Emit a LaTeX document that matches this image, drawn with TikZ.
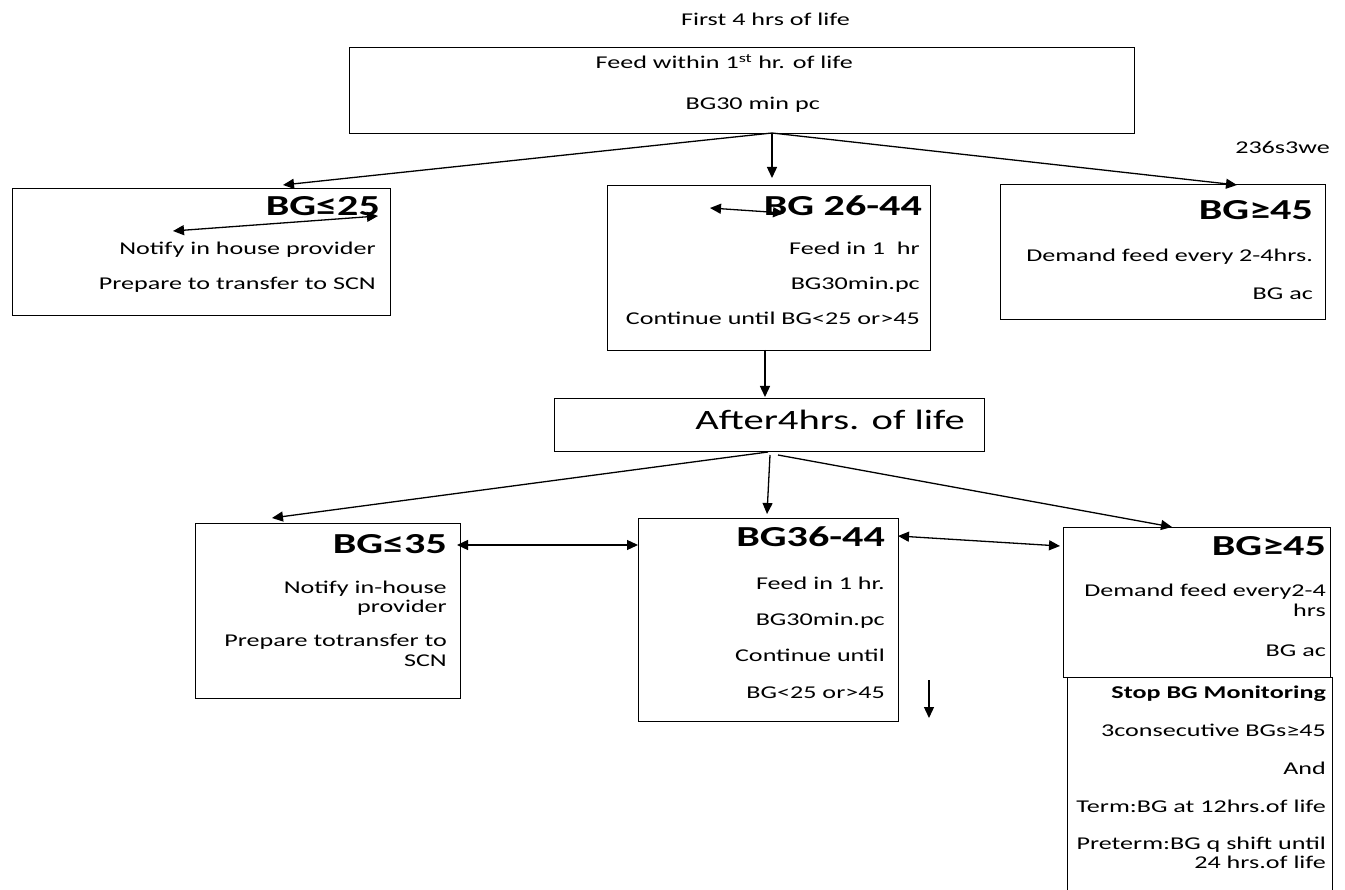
\documentclass[tikz,border=0pt]{standalone}
\usepackage{fontspec}
\setmainfont{Carlito}[FakeStretch=1.45]
\usetikzlibrary{arrows.meta}

\tikzset{
  box/.style={draw, line width=1.3pt, anchor=north west, inner sep=0pt},
  hd/.style={font=\fontsize{29}{31}\selectfont\bfseries, anchor=base east, inner sep=0pt},
  ln/.style={font=\fontsize{18}{21}\selectfont, anchor=base east, inner sep=0pt},
  arr/.style={-{Triangle[length=11pt,width=10pt]}, line width=1.3pt},
  darr/.style={{Triangle[length=11pt,width=10pt]}-{Triangle[length=11pt,width=10pt]}, line width=1.3pt}
}

\begin{document}
\begin{tikzpicture}[x=1pt, y=-1pt]
        \useasboundingbox (0,0) rectangle (1345,890);

        % boxes
        \node[box, minimum width=785pt, minimum height=86pt] (box top) at (349,47) {};
        \node[box, minimum width=378pt, minimum height=127pt] (box a) at (12,188) {};
        \node[box, minimum width=323pt, minimum height=165pt] (box b) at (607,185) {};
        \node[box, minimum width=325pt, minimum height=135pt] (box c) at (1000,184) {};
        \node[box, minimum width=430pt, minimum height=53pt] (box after) at (554,398) {};
        \node[box, minimum width=265pt, minimum height=175pt] (box d) at (195,523) {};
        \node[box, minimum width=260pt, minimum height=203pt] (box e) at (638,518) {};
        \node[box, minimum width=267pt, minimum height=150pt] (box f) at (1063,527) {};
        \node[box, minimum width=265pt, minimum height=240pt] (box g) at (1067,677) {};

        % texts
        \node[ln] (title) at (850,26) {First 4 hrs of life};
        \node[ln] (top 1) at (853,69) {Feed within 1\textsuperscript{st} hr. of life};
        \node[ln] (top 2) at (820,110) {BG30 min pc};
        \node[ln] (code) at (1330,154) {236s3we};

        \node[hd] (a 0) at (380,216) {BG≤25};
        \node[ln] (a 1) at (376,255) {Notify in house provider};
        \node[ln] (a 2) at (376,290) {Prepare to transfer to SCN};

        \node[hd] (b 0) at (922,216) {BG 26-44};
        \node[ln] (b 1) at (920,255) {Feed in 1\ \ hr};
        \node[ln] (b 2) at (920,290) {BG30min.pc};
        \node[ln] (b 3) at (920,325) {Continue until BG<25 or>45};

        \node[hd] (c 0) at (1313,220) {BG≥45};
        \node[ln] (c 1) at (1313,262) {Demand feed every 2-4hrs.};
        \node[ln] (c 2) at (1313,300) {BG ac};

        \node[ln, font=\fontsize{28}{30}\selectfont] (after) at (965,430) {After4hrs. of life};

        \node[hd] (d 0) at (447,554) {BG≤35};
        \node[ln] (d 1) at (447,593) {Notify in-house};
        \node[ln] (d 2) at (447,612) {provider};
        \node[ln] (d 3) at (447,646) {Prepare totransfer to};
        \node[ln] (d 4) at (447,666) {SCN};

        \node[hd] (e 0) at (885,547) {BG36-44};
        \node[ln] (e 1) at (885,589) {Feed in 1 hr.};
        \node[ln] (e 2) at (885,625) {BG30min.pc};
        \node[ln] (e 3) at (885,661) {Continue until};
        \node[ln] (e 4) at (885,698) {BG<25 or>45};

        \node[hd] (f 0) at (1326,555) {BG≥45};
        \node[ln] (f 1) at (1326,596) {Demand feed every2-4};
        \node[ln] (f 2) at (1326,616) {hrs};
        \node[ln] (f 3) at (1326,656) {BG ac};

        \node[ln, font=\fontsize{18}{21}\selectfont\bfseries] (g 0) at (1326,698) {Stop BG Monitoring};
        \node[ln] (g 1) at (1326,736) {3consecutive BGs≥45};
        \node[ln] (g 2) at (1326,774) {And};
        \node[ln] (g 3) at (1326,812) {Term:BG at 12hrs.of life};
        \node[ln] (g 4) at (1326,849) {Preterm:BG q shift until};
        \node[ln] (g 5) at (1326,868) {24 hrs.of life};

        % connector ends
        \coordinate (top fan) at (772,133);
        \coordinate (a tip) at (283,185);
        \coordinate (b tip) at (772,178);
        \coordinate (c tip) at (1237,185);
        \coordinate (a l) at (173,231);
        \coordinate (a r) at (378,216);
        \coordinate (b l) at (710,208);
        \coordinate (b r) at (784,213);
        \coordinate (b out) at (765,350);
        \coordinate (after in) at (765,397);
        \coordinate (after fan) at (768,452);
        \coordinate (after fan r) at (778,455);
        \coordinate (after fan m) at (770,455);
        \coordinate (d tip) at (272,518);
        \coordinate (e tip) at (767,514);
        \coordinate (f tip) at (1172,527);
        \coordinate (d r) at (457,545);
        \coordinate (e l) at (638,545);
        \coordinate (e r) at (898,536);
        \coordinate (f l) at (1060,546);
        \coordinate (stray) at (929,680);
        \coordinate (stray tip) at (929,718);

        \foreach \i in {a, b, c}
        \draw[arr] (top fan) -- (\i\space tip);
        \draw[darr] (a l) -- (a r);
        \draw[darr] (b l) -- (b r);
        \draw[arr] (b out) -- (after in);
        \draw[arr] (after fan) -- (d tip);
        \draw[arr] (after fan m) -- (e tip);
        \draw[arr] (after fan r) -- (f tip);
        \draw[darr] (d r) -- (e l);
        \draw[darr] (e r) -- (f l);
        \draw[arr] (stray) -- (stray tip);

\end{tikzpicture}
\end{document}
